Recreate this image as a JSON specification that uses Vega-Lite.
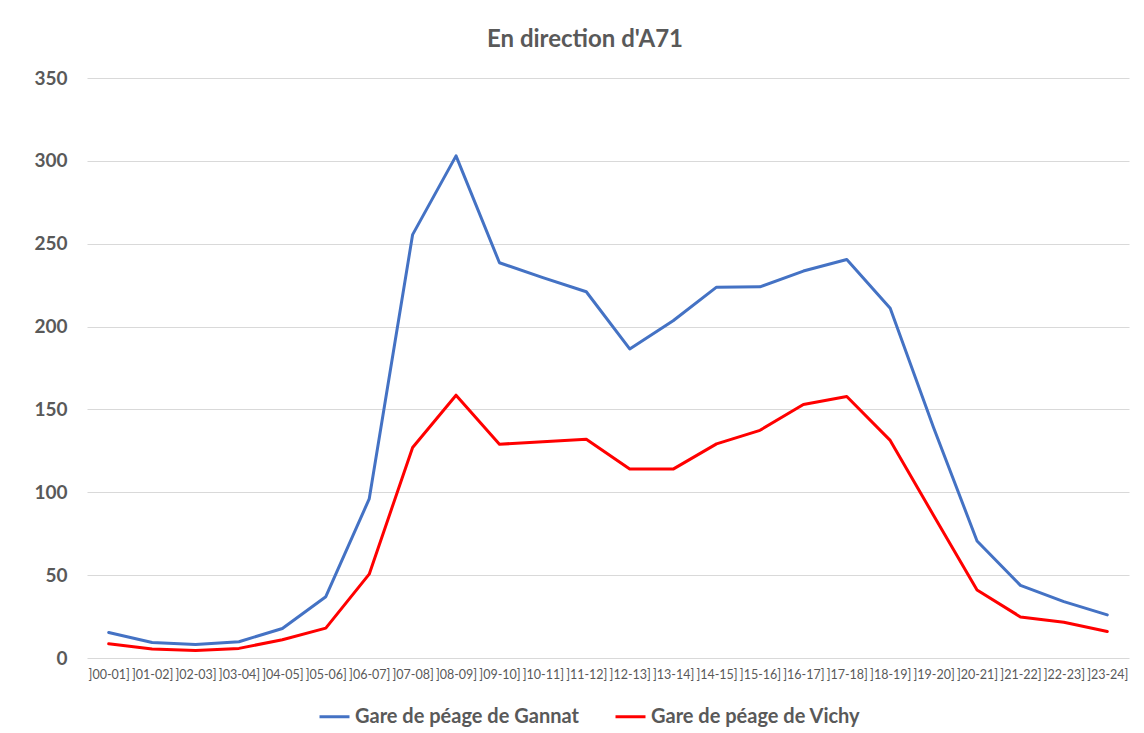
{
  "$schema": "https://vega.github.io/schema/vega-lite/v6.json",
  "width": 1042,
  "height": 580,
  "autosize": {"type": "none"},
  "padding": {"left": 87, "top": 78, "right": 15, "bottom": 75},
  "background": "white",
  "title": {
    "text": "En direction d'A71",
    "font": "Lato",
    "fontSize": 24,
    "fontWeight": "bold",
    "color": "#595959",
    "anchor": "middle",
    "dx": -23,
    "offset": 17
  },
  "datasets": {
    "rows": [
      {"h": "]00-01]", "i": 0, "s": "Gare de péage de Gannat", "v": 15.4},
      {"h": "]01-02]", "i": 1, "s": "Gare de péage de Gannat", "v": 9.4},
      {"h": "]02-03]", "i": 2, "s": "Gare de péage de Gannat", "v": 8.2},
      {"h": "]03-04]", "i": 3, "s": "Gare de péage de Gannat", "v": 9.8},
      {"h": "]04-05]", "i": 4, "s": "Gare de péage de Gannat", "v": 17.8},
      {"h": "]05-06]", "i": 5, "s": "Gare de péage de Gannat", "v": 37},
      {"h": "]06-07]", "i": 6, "s": "Gare de péage de Gannat", "v": 96},
      {"h": "]07-08]", "i": 7, "s": "Gare de péage de Gannat", "v": 255.5},
      {"h": "]08-09]", "i": 8, "s": "Gare de péage de Gannat", "v": 303},
      {"h": "]09-10]", "i": 9, "s": "Gare de péage de Gannat", "v": 238.5},
      {"h": "]10-11]", "i": 10, "s": "Gare de péage de Gannat", "v": 229.5},
      {"h": "]11-12]", "i": 11, "s": "Gare de péage de Gannat", "v": 221},
      {"h": "]12-13]", "i": 12, "s": "Gare de péage de Gannat", "v": 186.5},
      {"h": "]13-14]", "i": 13, "s": "Gare de péage de Gannat", "v": 203.5},
      {"h": "]14-15]", "i": 14, "s": "Gare de péage de Gannat", "v": 223.8},
      {"h": "]15-16]", "i": 15, "s": "Gare de péage de Gannat", "v": 224},
      {"h": "]16-17]", "i": 16, "s": "Gare de péage de Gannat", "v": 233.5},
      {"h": "]17-18]", "i": 17, "s": "Gare de péage de Gannat", "v": 240.5},
      {"h": "]18-19]", "i": 18, "s": "Gare de péage de Gannat", "v": 211},
      {"h": "]19-20]", "i": 19, "s": "Gare de péage de Gannat", "v": 139},
      {"h": "]20-21]", "i": 20, "s": "Gare de péage de Gannat", "v": 70.6},
      {"h": "]21-22]", "i": 21, "s": "Gare de péage de Gannat", "v": 43.8},
      {"h": "]22-23]", "i": 22, "s": "Gare de péage de Gannat", "v": 34},
      {"h": "]23-24]", "i": 23, "s": "Gare de péage de Gannat", "v": 26},
      {"h": "]00-01]", "i": 0, "s": "Gare de péage de Vichy", "v": 8.6},
      {"h": "]01-02]", "i": 1, "s": "Gare de péage de Vichy", "v": 5.4},
      {"h": "]02-03]", "i": 2, "s": "Gare de péage de Vichy", "v": 4.6},
      {"h": "]03-04]", "i": 3, "s": "Gare de péage de Vichy", "v": 5.8},
      {"h": "]04-05]", "i": 4, "s": "Gare de péage de Vichy", "v": 11},
      {"h": "]05-06]", "i": 5, "s": "Gare de péage de Vichy", "v": 18},
      {"h": "]06-07]", "i": 6, "s": "Gare de péage de Vichy", "v": 50.6},
      {"h": "]07-08]", "i": 7, "s": "Gare de péage de Vichy", "v": 127},
      {"h": "]08-09]", "i": 8, "s": "Gare de péage de Vichy", "v": 158.6},
      {"h": "]09-10]", "i": 9, "s": "Gare de péage de Vichy", "v": 129},
      {"h": "]10-11]", "i": 10, "s": "Gare de péage de Vichy", "v": 130.5},
      {"h": "]11-12]", "i": 11, "s": "Gare de péage de Vichy", "v": 132},
      {"h": "]12-13]", "i": 12, "s": "Gare de péage de Vichy", "v": 114},
      {"h": "]13-14]", "i": 13, "s": "Gare de péage de Vichy", "v": 114},
      {"h": "]14-15]", "i": 14, "s": "Gare de péage de Vichy", "v": 129.2},
      {"h": "]15-16]", "i": 15, "s": "Gare de péage de Vichy", "v": 137.4},
      {"h": "]16-17]", "i": 16, "s": "Gare de péage de Vichy", "v": 153},
      {"h": "]17-18]", "i": 17, "s": "Gare de péage de Vichy", "v": 157.8},
      {"h": "]18-19]", "i": 18, "s": "Gare de péage de Vichy", "v": 131.3},
      {"h": "]19-20]", "i": 19, "s": "Gare de péage de Vichy", "v": 86},
      {"h": "]20-21]", "i": 20, "s": "Gare de péage de Vichy", "v": 41},
      {"h": "]21-22]", "i": 21, "s": "Gare de péage de Vichy", "v": 24.8},
      {"h": "]22-23]", "i": 22, "s": "Gare de péage de Vichy", "v": 21.6},
      {"h": "]23-24]", "i": 23, "s": "Gare de péage de Vichy", "v": 16}
    ]
  },
  "data": {"name": "rows"},
  "mark": {"type": "line", "strokeWidth": 3, "strokeJoin": "round", "strokeCap": "round"},
  "encoding": {
    "x": {
      "field": "h",
      "type": "ordinal",
      "sort": {"field": "i"},
      "scale": {"type": "point", "padding": 0.5},
      "axis": {
        "title": null,
        "labelAngle": 0,
        "labelFont": "Lato",
        "labelFontSize": 12.5,
        "labelColor": "#595959",
        "labelPadding": 10,
        "labelOverlap": false,
        "ticks": false,
        "domain": false,
        "grid": false
      }
    },
    "y": {
      "field": "v",
      "type": "quantitative",
      "scale": {"domain": [0, 350], "nice": false},
      "axis": {
        "title": null,
        "values": [0, 50, 100, 150, 200, 250, 300, 350],
        "labelFont": "Lato",
        "labelFontSize": 19,
        "labelFontWeight": "bold",
        "labelColor": "#595959",
        "labelPadding": 20,
        "ticks": false,
        "domain": false,
        "grid": true,
        "gridColor": "#d9d9d9",
        "gridWidth": 1
      }
    },
    "color": {
      "field": "s",
      "type": "nominal",
      "scale": {
        "domain": ["Gare de péage de Gannat", "Gare de péage de Vichy"],
        "range": ["#4472C4", "#FF0000"]
      },
      "legend": {
        "title": null,
        "orient": "none",
        "legendX": 231,
        "legendY": 622,
        "direction": "horizontal",
        "symbolType": "stroke",
        "symbolSize": 900,
        "symbolStrokeWidth": 3,
        "labelFont": "Lato",
        "labelFontSize": 20,
        "labelFontWeight": "bold",
        "labelColor": "#595959",
        "labelLimit": 400,
        "labelOffset": 4,
        "columnPadding": 30
      }
    }
  },
  "config": {
    "view": {"stroke": null}
  }
}
